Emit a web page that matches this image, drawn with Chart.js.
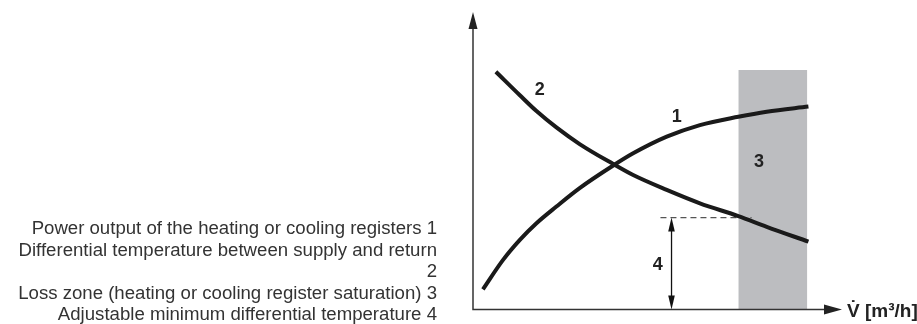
<!DOCTYPE html>
<html>
<head>
<meta charset="utf-8">
<script src="https://cdn.jsdelivr.net/npm/chart.js@4/dist/chart.umd.min.js"></script>
<style>
  html, body { margin: 0; padding: 0; background: #fff; }
  #wrap { position: relative; width: 917px; height: 324px; overflow: hidden; }
  #chart { position: absolute; left: 0; top: 0; }
  #key {
    position: absolute; right: 480px; top: 218px; width: 440px;
    font: 17.5px "Liberation Sans", Arial, sans-serif; line-height: 21.5px;
    color: #333; text-align: right;
    transform: scaleX(1.063); transform-origin: right top;
  }
</style>
</head>
<body>
<div id="wrap">
  <canvas id="chart" width="917" height="324"></canvas>
  <div id="key"></div>
</div>
<script>
// key texts, one per numbered item
const keyLines = [
  "Power output of the heating or cooling registers 1",
  "Differential temperature between supply and return<br>2",
  "Loss zone (heating or cooling register saturation) 3",
  "Adjustable minimum differential temperature 4",
];

// curve 1: power output (rising)
const powerX = [2.7, 8.1, 12.7, 17.2, 22.6, 28.9, 38.0, 43.4, 52.5, 61.5, 71.9, 79.6, 90.9];
const powerY = [6.8, 16.6, 23.4, 29.0, 34.6, 40.8, 48.4, 52.5, 58.1, 62.0, 64.8, 66.5, 68.2];

// curve 2: differential temperature (falling)
const deltaX = [6.2, 12.7, 17.2, 22.6, 28.9, 38.0, 43.4, 52.5, 61.5, 71.9, 79.6, 90.9];
const deltaY = [79.9, 72.0, 66.7, 61.2, 55.6, 48.9, 45.2, 40.2, 35.7, 31.4, 27.8, 22.8];

// zone 3 and the minimum differential (4)
const lossZoneX = [71.9, 90.6];
const lossZoneTop = 80.5;
const minDeltaY = 30.9;
const minDeltaLineX = [50.8, 75.5];
const minDeltaArrowX = 53.8;

const markLabels = [
  { text: "1", x: 55.2, y: 64.8 },
  { text: "2", x: 18.1, y: 73.8 },
  { text: "3", x: 77.5, y: 49.5 },
  { text: "4", x: 50.1, y: 15.0 },
];
const xAxisTitle = "V\u0307 [m\u00b3/h]";

document.getElementById("key").innerHTML = keyLines.map((l) => "<div>" + l + "</div>").join("");

const toPts = (xs, ys) => xs.map((x, i) => ({ x, y: ys[i] }));

function arrowHead(ctx, x, y, dir, len, half) {
  // dir: "up" | "down" | "right"
  ctx.beginPath();
  if (dir === "up") {
    ctx.moveTo(x, y); ctx.lineTo(x - half, y + len); ctx.lineTo(x + half, y + len);
  } else if (dir === "down") {
    ctx.moveTo(x, y); ctx.lineTo(x - half, y - len); ctx.lineTo(x + half, y - len);
  } else {
    ctx.moveTo(x, y); ctx.lineTo(x - len, y - half); ctx.lineTo(x - len, y + half);
  }
  ctx.closePath();
  ctx.fill();
}

const annotate = {
  id: "annotate",
  afterDatasetsDraw(chart) {
    const { ctx, chartArea: a, scales } = chart;
    const sx = scales.x, sy = scales.y;
    ctx.save();

    // axes with arrows
    ctx.strokeStyle = "#333";
    ctx.fillStyle = "#222";
    ctx.lineWidth = 1.5;
    ctx.beginPath();
    ctx.moveTo(a.left, a.top + 10);
    ctx.lineTo(a.left, a.bottom);
    ctx.lineTo(a.right - 10, a.bottom);
    ctx.stroke();
    arrowHead(ctx, a.left, a.top, "up", 17, 4.5);
    arrowHead(ctx, a.right, a.bottom, "right", 18, 5);

    // double arrow for item 4
    const ax = sx.getPixelForValue(minDeltaArrowX);
    const yTop = sy.getPixelForValue(minDeltaY);
    const yBot = sy.getPixelForValue(0);
    ctx.lineWidth = 1.3;
    ctx.strokeStyle = "#111";
    ctx.fillStyle = "#111";
    ctx.beginPath();
    ctx.moveTo(ax, yTop + 8);
    ctx.lineTo(ax, yBot - 8);
    ctx.stroke();
    arrowHead(ctx, ax, yTop, "up", 14, 3.3);
    arrowHead(ctx, ax, yBot, "down", 14, 3.3);

    // numbered labels
    ctx.fillStyle = "#222";
    ctx.font = "bold 18px 'Liberation Sans', Arial, sans-serif";
    ctx.textAlign = "center";
    ctx.textBaseline = "middle";
    markLabels.forEach((l) => {
      ctx.fillText(l.text, sx.getPixelForValue(l.x), sy.getPixelForValue(l.y));
    });

    // x axis title
    ctx.font = "bold 19px 'Liberation Sans', Arial, sans-serif";
    ctx.textAlign = "left";
    ctx.textBaseline = "alphabetic";
    ctx.fillText(xAxisTitle, a.right + 5, a.bottom + 7);
    ctx.restore();
  },
};

new Chart(document.getElementById("chart"), {
  type: "line",
  data: {
    datasets: [
      {
        label: "Power output",
        data: toPts(powerX, powerY),
        borderColor: "#1a1a1a",
        borderWidth: 4,
        pointRadius: 0,
        cubicInterpolationMode: "monotone",
        fill: false,
        order: 0,
      },
      {
        label: "Differential temperature",
        data: toPts(deltaX, deltaY),
        borderColor: "#1a1a1a",
        borderWidth: 4,
        pointRadius: 0,
        cubicInterpolationMode: "monotone",
        fill: false,
        order: 1,
      },
      {
        label: "Minimum differential",
        data: minDeltaLineX.map((x) => ({ x, y: minDeltaY })),
        borderColor: "#555",
        borderWidth: 1.3,
        borderDash: [6, 4],
        pointRadius: 0,
        fill: false,
        order: 2,
      },
      {
        label: "Loss zone",
        data: [
          { x: lossZoneX[0], y: 0 },
          { x: lossZoneX[0], y: lossZoneTop },
          { x: lossZoneX[1], y: lossZoneTop },
          { x: lossZoneX[1], y: 0 },
        ],
        borderWidth: 0,
        borderColor: "rgba(0,0,0,0)",
        backgroundColor: "#bcbdc0",
        pointRadius: 0,
        fill: "origin",
        order: 5,
      },
    ],
  },
  options: {
    responsive: false,
    animation: false,
    layout: { padding: { left: 473, right: 75, top: 12, bottom: 14.5 } },
    scales: {
      x: { type: "linear", min: 0, max: 100, display: false },
      y: { type: "linear", min: 0, max: 100, display: false },
    },
    plugins: { legend: { display: false }, tooltip: { enabled: false } },
  },
  plugins: [annotate],
});
</script>
</body>
</html>
